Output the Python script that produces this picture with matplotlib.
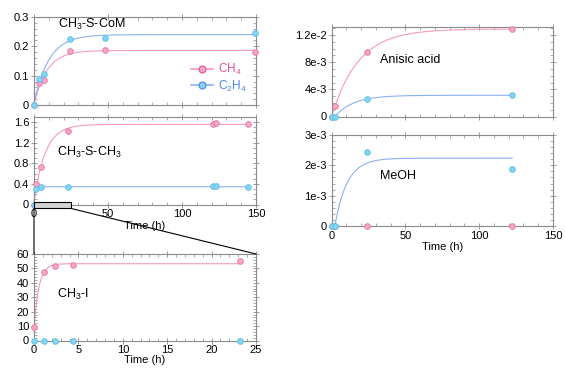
import numpy as np
import matplotlib
matplotlib.use("Agg")
import matplotlib.pyplot as plt
from matplotlib.lines import Line2D
from matplotlib.patches import Rectangle, ConnectionPatch
from matplotlib.ticker import MultipleLocator
import matplotlib.transforms as mtransforms

plt.rcParams['font.family'] = ['Liberation Sans', 'DejaVu Sans']
plt.rcParams['font.size'] = 8
plt.rcParams['mathtext.fontset'] = 'custom'
plt.rcParams['mathtext.rm'] = 'Liberation Sans'
plt.rcParams['mathtext.it'] = 'Liberation Sans'

# ---------------- data ----------------
t_com = [0, 3.4, 6.5, 24.3, 47.7, 149.5]
ch4_com = [0, 0.074, 0.084, 0.183, 0.187, 0.179]
c2h4_com = [0, 0.087, 0.105, 0.224, 0.228, 0.247]

t_dms = [0, 1.35, 4.7, 23, 121, 123, 144.8]
ch4_dms = [0, 0.39, 0.73, 1.43, 1.56, 1.59, 1.56]
c2h4_dms = [0, 0.295, 0.335, 0.345, 0.35, 0.35, 0.345]

t_mi = [0, 1.13, 2.36, 4.35, 23.2]
ch4_mi = [9.6, 47.2, 51.6, 52.5, 55.0]
c2h4_mi = [0, 0, 0, 0, 0]

t_right = [0, 2.2, 24.1, 122.4]
ch4_anis = [0, 1.55e-3, 9.48e-3, 12.9e-3]
c2h4_anis = [0, 0, 2.58e-3, 3.13e-3]
ch4_meoh = [0, 0, 0, 0]
c2h4_meoh = [0, 0, 2.45e-3, 1.89e-3]

time_ticks_long = [0, 50, 100, 150]
time_ticks_short = [0, 5, 10, 15, 20, 25]
yt_com = [0, 0.1, 0.2, 0.3]
yt_dms = [0, 0.4, 0.8, 1.2, 1.6]
yt_mi = [0, 10, 20, 30, 40, 50, 60]
yt_anis = [0, 4e-3, 8e-3, 1.2e-2]
yl_anis = ["0", "4e-3", "8e-3", "1.2e-2"]
yt_meoh = [0, 1e-3, 2e-3, 3e-3]
yl_meoh = ["0", "1e-3", "2e-3", "3e-3"]

# ---------------- style ----------------
PINK_LINE = '#f59ac2'
PINK_FACE = '#f4a8c8'
PINK_EDGE = '#e87aa8'
PINK_TEXT = '#e2509a'
BLUE_LINE = '#8cb0f4'
BLUE_FACE = '#86d6f2'
BLUE_EDGE = '#5cc0ea'
BLUE_TEXT = '#4a84ea'
SPINE = '#8a8a8a'


def fit_first_order(t, y, kmax=30.0):
    t = np.asarray(t, float)
    y = np.asarray(y, float)
    best = None
    for k in np.logspace(-2.5, np.log10(kmax), 300):
        for t0 in np.linspace(-2, 3, 51):
            f = np.clip(1 - np.exp(-k * (t - t0)), 0, None)
            den = np.sum(f * f)
            if den == 0:
                continue
            A = np.sum(y * f) / den
            sse = np.sum((y - A * f) ** 2)
            if best is None or sse < best[0]:
                best = (sse, A, k, t0)
    return best[1:]


def curve(ax, t, y, color, kmax=30.0):
    A, k, t0 = fit_first_order(t, y, kmax)
    if A <= 0:
        return
    tt = np.linspace(max(0, t0), max(t), 400)
    ax.plot(tt, np.clip(A * (1 - np.exp(-k * (tt - t0))), 0, None),
            color=color, lw=0.8, zorder=2, clip_on=False)


def points(ax, t, y, face, edge):
    ax.plot(t, y, 'o', ms=4.0, mfc=face, mec=edge, mew=0.7, ls='none',
            zorder=4, clip_on=False)


def style(ax, xmaj, xmin, ymaj, ymin):
    for s in ax.spines.values():
        s.set_color(SPINE)
        s.set_linewidth(0.8)
    ax.xaxis.set_major_locator(MultipleLocator(xmaj))
    ax.xaxis.set_minor_locator(MultipleLocator(xmin))
    ax.yaxis.set_minor_locator(MultipleLocator(ymin))
    ax.tick_params(which='major', direction='inout', length=4, width=0.6,
                   color=SPINE, top=True, right=True, pad=1.5, labelsize=8)
    ax.tick_params(which='minor', direction='in', length=2, width=0.5,
                   color=SPINE, top=True, right=True)


fig = plt.figure(figsize=(5.65, 3.73), dpi=100)
W, H = 565.0, 373.0


def axes_px(x0, x1, y0, y1):
    return fig.add_axes([x0 / W, (H - y1) / H, (x1 - x0) / W, (y1 - y0) / H])


ax1 = axes_px(34, 256, 17, 105)
ax2 = axes_px(34, 256, 117, 204.5)
ax3 = axes_px(34, 256, 254, 340.5)
ax4 = axes_px(331.7, 553, 27, 116.5)
ax5 = axes_px(331.7, 553, 135, 226)

# Panel 1: CH3-S-CoM
curve(ax1, t_com, ch4_com, PINK_LINE, kmax=0.3)
curve(ax1, t_com, c2h4_com, BLUE_LINE, kmax=0.3)
points(ax1, t_com, ch4_com, PINK_FACE, PINK_EDGE)
points(ax1, t_com, c2h4_com, BLUE_FACE, BLUE_EDGE)
ax1.set_xlim(0, 150)
ax1.set_ylim(0, 0.3)
ax1.set_xticks(time_ticks_long)
ax1.set_yticks(yt_com)
ax1.set_yticklabels(["%g" % v for v in yt_com])
style(ax1, 50, 10, 0.1, 0.02)
ax1.tick_params(labelbottom=False)
ax1.text(0.108, 0.91, 'CH$_3$-S-CoM', transform=ax1.transAxes,
         ha='left', va='center', fontsize=9)
handles = [
    Line2D([], [], color=PINK_LINE, lw=1.2, marker='o', ms=5, mfc=PINK_FACE, mec=PINK_TEXT, mew=0.8),
    Line2D([], [], color=BLUE_LINE, lw=1.2, marker='o', ms=5, mfc=BLUE_FACE, mec=BLUE_TEXT, mew=0.8),
]
leg = ax1.legend(handles, ['CH$_4$', 'C$_2$H$_4$'], loc='center left',
                 bbox_to_anchor=(0.68, 0.31), frameon=False, handlelength=1.9,
                 handletextpad=0.4, labelspacing=0.15, borderpad=0, fontsize=8.5)
for txt, c in zip(leg.get_texts(), [PINK_TEXT, BLUE_TEXT]):
    txt.set_color(c)

# Panel 2: CH3-S-CH3
curve(ax2, t_dms, ch4_dms, PINK_LINE, kmax=0.2)
curve(ax2, t_dms, c2h4_dms, BLUE_LINE)
points(ax2, t_dms, ch4_dms, PINK_FACE, PINK_EDGE)
points(ax2, t_dms, c2h4_dms, BLUE_FACE, BLUE_EDGE)
ax2.set_xlim(0, 150)
ax2.set_ylim(0, 1.7)
ax2.set_xticks(time_ticks_long)
ax2.set_yticks(yt_dms)
ax2.set_yticklabels(["%g" % v for v in yt_dms])
style(ax2, 50, 10, 0.4, 0.1)
ax2.set_xlabel('Time (h)', labelpad=1, fontsize=8)
ax2.text(0.104, 0.59, 'CH$_3$-S-CH$_3$', transform=ax2.transAxes,
         ha='left', va='center', fontsize=9)

# Panel 3: CH3-I
curve(ax3, t_mi, ch4_mi, PINK_LINE)
points(ax3, t_mi, ch4_mi, PINK_FACE, PINK_EDGE)
points(ax3, t_mi, c2h4_mi, BLUE_FACE, BLUE_EDGE)
ax3.set_xlim(0, 25)
ax3.set_ylim(0, 60)
ax3.set_xticks(time_ticks_short)
ax3.set_yticks(yt_mi)
style(ax3, 5, 1, 10, 2)
ax3.set_xlabel('Time (h)', labelpad=0, fontsize=8)
ax3.text(0.104, 0.53, 'CH$_3$-I', transform=ax3.transAxes,
         ha='left', va='center', fontsize=9)

# Zoom box and connectors
trans = mtransforms.blended_transform_factory(ax2.transData, ax2.transAxes)
ax2.add_patch(Rectangle((0, -0.045), 25, 0.075, transform=trans,
                        facecolor='#d4d4d4', edgecolor='black', lw=0.8,
                        clip_on=False, zorder=5))
for xv in (0, 25):
    con = ConnectionPatch(xyA=(xv, -0.045), coordsA=trans,
                          xyB=(xv, 60), coordsB=ax3.transData,
                          color='black', lw=0.8, zorder=6)
    fig.add_artist(con)

# Panel 4: Anisic acid
curve(ax4, t_right, ch4_anis, PINK_LINE, kmax=0.1)
curve(ax4, t_right, c2h4_anis, BLUE_LINE, kmax=0.1)
points(ax4, t_right, ch4_anis, PINK_FACE, PINK_EDGE)
points(ax4, t_right, c2h4_anis, BLUE_FACE, BLUE_EDGE)
ax4.set_xlim(0, 150)
ax4.set_ylim(0, 0.0132)
ax4.set_xticks(time_ticks_long)
ax4.set_yticks(yt_anis)
ax4.set_yticklabels(yl_anis)
style(ax4, 50, 10, 4e-3, 1e-3)
ax4.tick_params(labelbottom=False)
ax4.text(0.218, 0.63, 'Anisic acid', transform=ax4.transAxes,
         ha='left', va='center', fontsize=9)

# Panel 5: MeOH
curve(ax5, t_right, c2h4_meoh, BLUE_LINE, kmax=0.12)
points(ax5, t_right, ch4_meoh, PINK_FACE, PINK_EDGE)
points(ax5, t_right, c2h4_meoh, BLUE_FACE, BLUE_EDGE)
ax5.set_xlim(0, 150)
ax5.set_ylim(0, 3e-3)
ax5.set_xticks(time_ticks_long)
ax5.set_yticks(yt_meoh)
ax5.set_yticklabels(yl_meoh)
style(ax5, 50, 10, 1e-3, 2e-4)
ax5.set_xlabel('Time (h)', labelpad=1, fontsize=8)
ax5.text(0.218, 0.55, 'MeOH', transform=ax5.transAxes,
         ha='left', va='center', fontsize=9)

fig.savefig('out.png', dpi=100)
